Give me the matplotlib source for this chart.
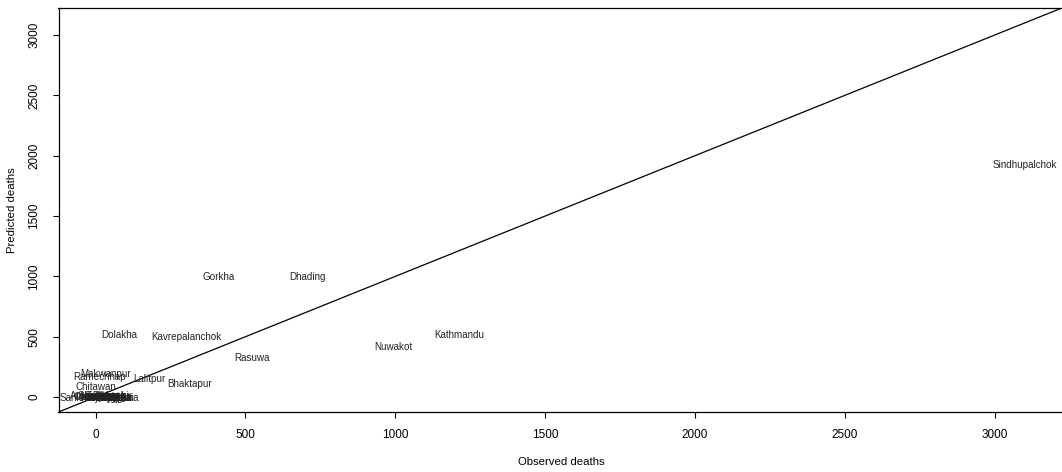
import matplotlib
matplotlib.use('Agg')
import matplotlib.pyplot as plt
import numpy as np

# district labels with (observed, predicted) deaths
districts = ['Sindhupalchok', 'Kathmandu', 'Nuwakot', 'Dhading', 'Gorkha',
             'Rasuwa', 'Kavrepalanchok', 'Dolakha', 'Bhaktapur', 'Lalitpur',
             'Ramechhap', 'Makwanpur', 'Chitawan',
             'Sankhuwasabha', 'Arghakhanchi', 'Okhaldhunga', 'Sindhuli',
             'Solukhumbu', 'Lamjung', 'Tanahu', 'Syangja', 'Kaski', 'Khotang',
             'Bhojpur', 'Udayapur', 'Nawalparasi', 'Dhanusha']
observed = [3100, 1214, 995, 706, 411,
            521, 302, 80, 312, 179,
            13, 33, 0,
            0, 15, 25, 20,
            30, 10, 20, 35, 40, 30,
            45, 50, 40, 70]
predicted = [1925, 514, 415, 996, 996,
             324, 498, 514, 108, 150,
             166, 191, 83,
             -5, 10, 0, -10,
             5, 0, 5, -5, 0, -10,
             5, -5, -10, -5]

# right edge of the box falls just outside the image, as in the reference
xlims = (-124, 3238)
ylims = (-124, 3224)
ticks = [0, 500, 1000, 1500, 2000, 2500, 3000]

narrow = ['Liberation Sans Narrow', 'Liberation Sans', 'DejaVu Sans']
plt.rcParams['font.family'] = ['Liberation Sans', 'DejaVu Sans']

fig = plt.figure(figsize=(10.62, 4.72), dpi=100)
ax = fig.add_axes([58.5 / 1062, 1 - 412 / 472, (1066 - 58.5) / 1062, 404 / 472])

for name, x, y in zip(districts, observed, predicted):
    ax.text(x, y, name, ha='center', va='center', fontsize=7.1,
            color='#222222', clip_on=False)

ax.axline((0, 0), slope=1, color='black', lw=0.9)

ax.set_xlim(xlims)
ax.set_ylim(ylims)
ax.set_xticks(ticks)
ax.set_yticks(ticks)
ax.tick_params(direction='out', length=4, width=0.8, color='black')
ax.tick_params(axis='x', pad=8)
ax.tick_params(axis='y', pad=9, labelrotation=90)
for lab in ax.get_xticklabels() + ax.get_yticklabels():
    lab.set_family(narrow)
    lab.set_fontsize(8.5)
for lab in ax.get_yticklabels():
    lab.set_va('center')
for s in ax.spines.values():
    s.set_linewidth(0.9)
ax.spines['right'].set_visible(False)

fig.text(561 / 1062, 1 - 462 / 472, 'Observed deaths', ha='center', va='center',
         fontsize=8.2, family=narrow)
fig.text(12 / 1062, 1 - 210 / 472, 'Predicted deaths', ha='center', va='center',
         rotation=90, fontsize=8.2, family=narrow)

fig.savefig('out.png', dpi=100)
